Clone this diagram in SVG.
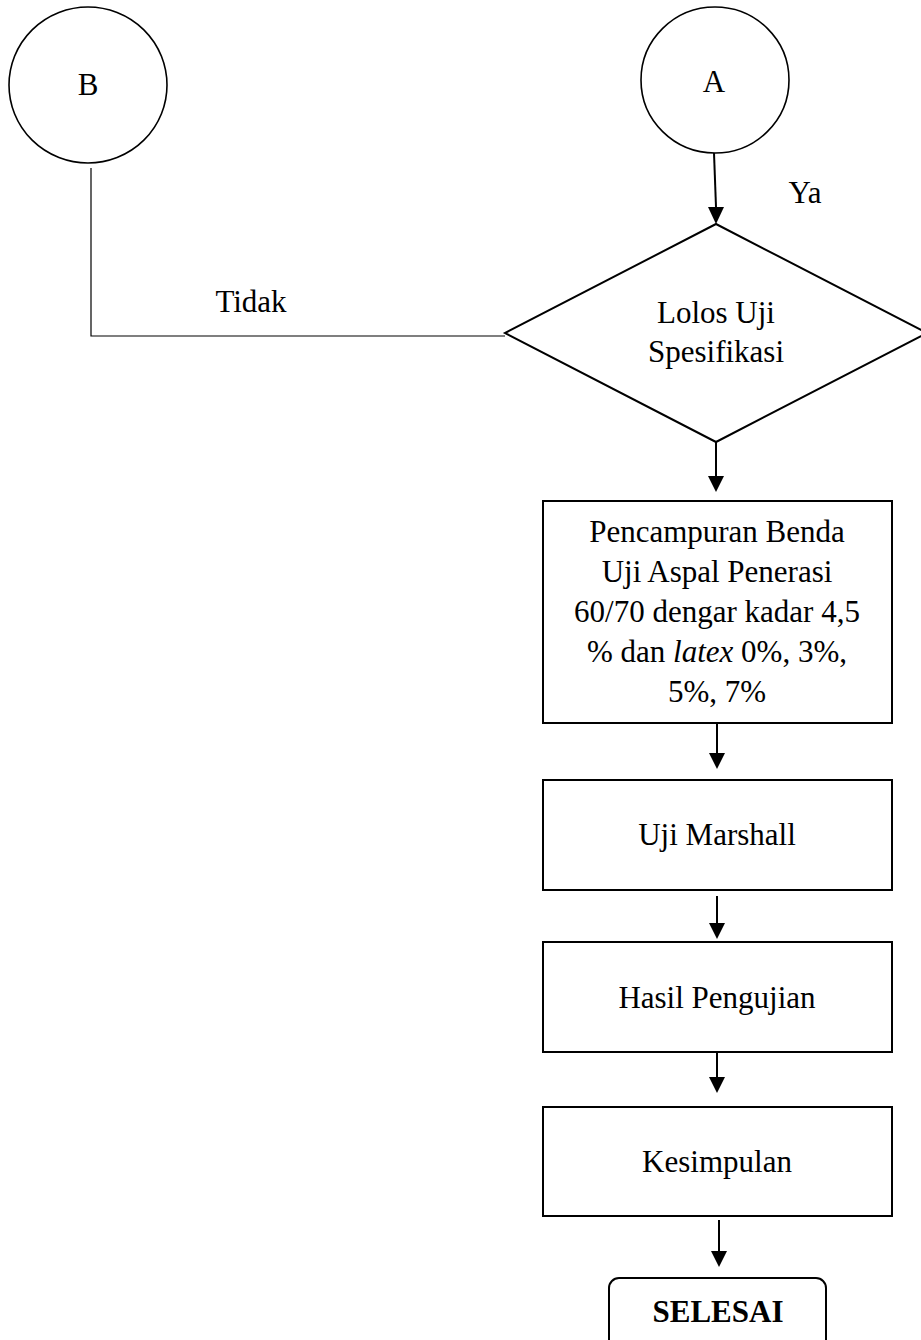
<svg xmlns="http://www.w3.org/2000/svg" width="921" height="1340" viewBox="0 0 921 1340">
<defs>
<marker id="arr" viewBox="0 0 16 17" refX="8" refY="17" markerWidth="16" markerHeight="17" markerUnits="userSpaceOnUse" orient="auto-start-reverse">
<path d="M0,0 L16,0 L8,17 Z" fill="#000"/>
</marker>
</defs>
<style>
.shape{fill:#fff;stroke:#000;stroke-width:2}
.circ{fill:#fff;stroke:#000;stroke-width:1.6}
.t{font-family:"Liberation Serif","Times New Roman",serif;font-size:31px;fill:#000;text-anchor:middle}
.b{font-weight:bold}
.conn{fill:none;stroke:#000;stroke-width:2}
.thin{fill:none;stroke:#000;stroke-width:1.2}
</style>
<rect width="921" height="1340" fill="#fff"/>
<g id="connectors">
<polyline class="thin" points="91,168 91,336 505,336"/>
<line class="conn" x1="714" y1="153" x2="716" y2="207"/>
<path d="M708,207 L724,207 L716,224 Z" fill="#000"/>
<line class="conn" x1="716" y1="442" x2="716" y2="476"/>
<path d="M708,476 L724,476 L716,492 Z" fill="#000"/>
<line class="conn" x1="717" y1="723" x2="717" y2="753"/>
<path d="M709,753 L725,753 L717,769 Z" fill="#000"/>
<line class="conn" x1="717" y1="896" x2="717" y2="923"/>
<path d="M709,923 L725,923 L717,939 Z" fill="#000"/>
<line class="conn" x1="717" y1="1052" x2="717" y2="1077"/>
<path d="M709,1077 L725,1077 L717,1093 Z" fill="#000"/>
<line class="conn" x1="719" y1="1220" x2="719" y2="1251"/>
<path d="M711,1251 L727,1251 L719,1267 Z" fill="#000"/>
</g>
<g id="labels">
<text class="t" x="251" y="312">Tidak</text>
<text class="t" x="805" y="203">Ya</text>
</g>
<g id="nodeB">
<ellipse class="circ" cx="88" cy="85" rx="79" ry="78"/>
<text class="t" x="88" y="95">B</text>
</g>
<g id="nodeA">
<ellipse class="circ" cx="715" cy="80" rx="74" ry="73"/>
<text class="t" x="714" y="92">A</text>
</g>
<g id="decision">
<polygon class="shape" points="716,224 927,333 716,442 505,333"/>
<text class="t" x="716" y="323">Lolos Uji</text>
<text class="t" x="716" y="362">Spesifikasi</text>
</g>
<g id="mixing">
<rect class="shape" x="543" y="501" width="349" height="222"/>
<text class="t" x="717" y="542">Pencampuran Benda</text>
<text class="t" x="717" y="582">Uji Aspal Penerasi</text>
<text class="t" x="717" y="622">60/70 dengar kadar 4,5</text>
<text class="t" x="717" y="662">% dan <tspan font-style="italic">latex</tspan> 0%, 3%,</text>
<text class="t" x="717" y="702">5%, 7%</text>
</g>
<g id="marshall">
<rect class="shape" x="543" y="780" width="349" height="110"/>
<text class="t" x="717" y="845">Uji Marshall</text>
</g>
<g id="hasil">
<rect class="shape" x="543" y="942" width="349" height="110"/>
<text class="t" x="717" y="1008">Hasil Pengujian</text>
</g>
<g id="kesimpulan">
<rect class="shape" x="543" y="1107" width="349" height="109"/>
<text class="t" x="717" y="1172">Kesimpulan</text>
</g>
<g id="selesai">
<rect class="shape" x="609" y="1278" width="217" height="80" rx="10" ry="10"/>
<text class="t b" x="718" y="1322">SELESAI</text>
</g>
</svg>
